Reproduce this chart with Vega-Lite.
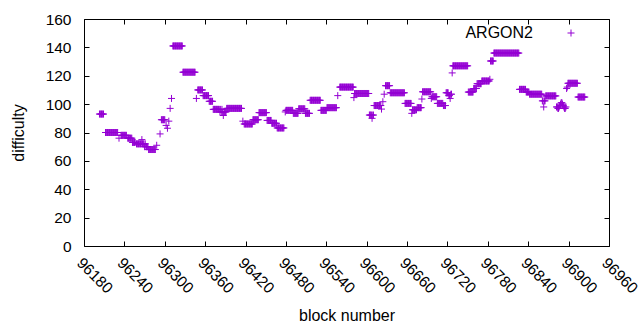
{
  "$schema": "https://vega.github.io/schema/vega-lite/v6.json",
  "width": 525,
  "height": 227,
  "autosize": "none",
  "padding": {"left": 84, "top": 19, "right": 31, "bottom": 84},
  "background": "white",
  "config": {
    "view": {"stroke": "black", "strokeWidth": 1},
    "font": "Liberation Sans",
    "axis": {"grid": false, "domain": false, "tickColor": "black", "tickWidth": 1, "tickSize": -5, "labelColor": "black", "labelFont": "Liberation Sans", "labelFontSize": 15.5, "titleFont": "Liberation Sans", "titleFontSize": 16, "titleFontWeight": "normal", "titleColor": "black"}
  },
  "resolve": {"axis": {"x": "independent", "y": "independent"}},
  "layer": [
    {
      "data": {"values": [
        {"b":96203,"d":93},{"b":96204,"d":93},{"b":96205,"d":93},{"b":96206,"d":93},{"b":96207,"d":93},{"b":96208,"d":93},{"b":96209,"d":93},
        {"b":96212,"d":80},{"b":96213,"d":80},{"b":96214,"d":80},{"b":96215,"d":80},{"b":96216,"d":80},{"b":96217,"d":80},{"b":96218,"d":80},{"b":96219,"d":80},{"b":96220,"d":80},{"b":96221,"d":80},{"b":96222,"d":80},{"b":96223,"d":80},{"b":96224,"d":80},{"b":96225,"d":80},{"b":96226,"d":80},{"b":96227,"d":80},{"b":96228,"d":80},{"b":96229,"d":80},{"b":96230,"d":80},
        {"b":96232,"d":76},
        {"b":96235,"d":78},{"b":96236,"d":78},{"b":96237,"d":78},{"b":96238,"d":78},{"b":96239,"d":78},{"b":96240,"d":78},{"b":96241,"d":78},{"b":96242,"d":78},{"b":96243,"d":78},
        {"b":96245,"d":76},{"b":96246,"d":76},{"b":96247,"d":76},{"b":96248,"d":76},{"b":96249,"d":76},{"b":96250,"d":76},{"b":96251,"d":76},
        {"b":96252,"d":73},{"b":96253,"d":73},{"b":96254,"d":73},{"b":96255,"d":73},{"b":96256,"d":73},
        {"b":96258,"d":72},{"b":96259,"d":72},{"b":96260,"d":72},{"b":96261,"d":72},{"b":96262,"d":72},{"b":96263,"d":72},{"b":96264,"d":72},{"b":96265,"d":72},{"b":96266,"d":75},{"b":96267,"d":72},{"b":96268,"d":72},{"b":96269,"d":72},{"b":96271,"d":72},
        {"b":96270,"d":70},{"b":96272,"d":70},{"b":96273,"d":70},{"b":96274,"d":70},{"b":96275,"d":70},
        {"b":96276,"d":68},{"b":96277,"d":68},{"b":96278,"d":68},{"b":96279,"d":68},{"b":96280,"d":68},{"b":96281,"d":68},{"b":96282,"d":68},{"b":96283,"d":68},{"b":96284,"d":68},{"b":96285,"d":68},{"b":96286,"d":68},
        {"b":96288,"d":71},{"b":96293,"d":79},
        {"b":96295,"d":89},{"b":96296,"d":89},{"b":96297,"d":89},{"b":96298,"d":89},{"b":96299,"d":89},{"b":96300,"d":89},
        {"b":96302,"d":85},{"b":96304,"d":83},{"b":96306,"d":88},{"b":96308,"d":97},{"b":96310,"d":104},
        {"b":96312,"d":141},{"b":96313,"d":141},{"b":96314,"d":141},{"b":96315,"d":141},{"b":96316,"d":141},{"b":96317,"d":141},{"b":96318,"d":141},{"b":96319,"d":141},{"b":96320,"d":141},{"b":96321,"d":141},{"b":96322,"d":141},{"b":96323,"d":141},{"b":96324,"d":141},{"b":96325,"d":141},{"b":96326,"d":141},
        {"b":96327,"d":122.5},{"b":96328,"d":122.5},{"b":96329,"d":122.5},{"b":96330,"d":122.5},{"b":96331,"d":122.5},{"b":96332,"d":122.5},{"b":96333,"d":122.5},{"b":96334,"d":122.5},{"b":96335,"d":122.5},{"b":96336,"d":122.5},{"b":96337,"d":122.5},{"b":96338,"d":122.5},{"b":96339,"d":122.5},{"b":96340,"d":122.5},{"b":96341,"d":122.5},{"b":96342,"d":122.5},{"b":96343,"d":122.5},{"b":96344,"d":122.5},{"b":96345,"d":122.5},
        {"b":96347,"d":104},
        {"b":96349,"d":110},{"b":96350,"d":110},{"b":96351,"d":110},{"b":96352,"d":110},{"b":96353,"d":110},{"b":96354,"d":110},{"b":96355,"d":110},{"b":96356,"d":110},
        {"b":96357,"d":106},{"b":96358,"d":106},{"b":96359,"d":106},{"b":96360,"d":106},{"b":96361,"d":106},{"b":96362,"d":106},{"b":96363,"d":106},{"b":96364,"d":106},{"b":96365,"d":106},
        {"b":96366,"d":102},{"b":96367,"d":102},{"b":96368,"d":102},{"b":96369,"d":102},{"b":96370,"d":102},{"b":96371,"d":102},
        {"b":96372,"d":96.3},{"b":96373,"d":96.3},{"b":96374,"d":96.3},{"b":96375,"d":96.3},{"b":96376,"d":96.3},{"b":96377,"d":96.3},{"b":96378,"d":96.3},{"b":96379,"d":96.3},{"b":96380,"d":96.3},{"b":96381,"d":96.3},{"b":96383,"d":96.3},{"b":96385,"d":96.3},
        {"b":96382,"d":94.5},{"b":96384,"d":94.5},{"b":96386,"d":94.5},{"b":96387,"d":92},{"b":96388,"d":94.5},{"b":96389,"d":94.5},{"b":96390,"d":94.5},{"b":96391,"d":94.5},
        {"b":96392,"d":97},{"b":96393,"d":97},{"b":96394,"d":97},{"b":96395,"d":97},{"b":96396,"d":97},{"b":96397,"d":97},{"b":96398,"d":97},{"b":96399,"d":97},{"b":96400,"d":97},{"b":96401,"d":97},{"b":96402,"d":97},{"b":96403,"d":97},{"b":96404,"d":97},{"b":96405,"d":97},{"b":96406,"d":97},{"b":96407,"d":97},{"b":96408,"d":97},{"b":96409,"d":97},{"b":96410,"d":97},{"b":96411,"d":97},{"b":96412,"d":97},{"b":96413,"d":97},{"b":96414,"d":97},
        {"b":96416,"d":88},
        {"b":96418,"d":86},{"b":96419,"d":86},{"b":96420,"d":86},{"b":96421,"d":86},{"b":96422,"d":86},{"b":96423,"d":86},{"b":96424,"d":86},{"b":96425,"d":86},{"b":96426,"d":86},{"b":96427,"d":86},{"b":96428,"d":86},{"b":96429,"d":86},{"b":96430,"d":86},
        {"b":96431,"d":89},{"b":96432,"d":89},{"b":96433,"d":89},{"b":96434,"d":89},{"b":96435,"d":89},{"b":96436,"d":89},{"b":96437,"d":89},{"b":96438,"d":89},{"b":96439,"d":89},
        {"b":96440,"d":94},{"b":96441,"d":94},{"b":96442,"d":94},{"b":96443,"d":94},{"b":96444,"d":94},{"b":96445,"d":94},{"b":96446,"d":94},{"b":96447,"d":94},{"b":96448,"d":94},{"b":96449,"d":94},{"b":96450,"d":94},{"b":96451,"d":94},
        {"b":96452,"d":88.5},{"b":96453,"d":88.5},{"b":96454,"d":88.5},{"b":96455,"d":88.5},{"b":96456,"d":88.5},{"b":96457,"d":88.5},{"b":96458,"d":88.5},
        {"b":96459,"d":86.5},{"b":96460,"d":86.5},{"b":96461,"d":86.5},{"b":96462,"d":86.5},{"b":96463,"d":86.5},{"b":96464,"d":86.5},{"b":96465,"d":86.5},{"b":96466,"d":86.5},
        {"b":96467,"d":83.2},{"b":96468,"d":83.2},{"b":96469,"d":83.2},{"b":96470,"d":83.2},{"b":96471,"d":83.2},{"b":96472,"d":83.2},{"b":96473,"d":83.2},{"b":96474,"d":83.2},{"b":96475,"d":83.2},{"b":96476,"d":83.2},{"b":96477,"d":83.2},
        {"b":96479,"d":94.5},
        {"b":96480,"d":95.6},{"b":96481,"d":95.6},{"b":96482,"d":95.6},{"b":96483,"d":95.6},{"b":96484,"d":95.6},{"b":96485,"d":95.6},{"b":96486,"d":95.6},{"b":96487,"d":95.6},{"b":96488,"d":95.6},{"b":96489,"d":95.6},{"b":96490,"d":95.6},
        {"b":96491,"d":93.5},{"b":96492,"d":93.5},{"b":96493,"d":93.5},{"b":96494,"d":93.5},{"b":96495,"d":93.5},{"b":96496,"d":93.5},{"b":96497,"d":93.5},{"b":96498,"d":93.5},
        {"b":96499,"d":96.7},{"b":96500,"d":96.7},{"b":96501,"d":96.7},{"b":96502,"d":96.7},{"b":96503,"d":96.7},{"b":96504,"d":96.7},{"b":96505,"d":96.7},{"b":96506,"d":96.7},{"b":96507,"d":96.7},{"b":96508,"d":96.7},
        {"b":96509,"d":93.5},{"b":96510,"d":93.5},{"b":96511,"d":93.5},{"b":96512,"d":93.5},{"b":96513,"d":93.5},{"b":96514,"d":93.5},{"b":96515,"d":93.5},
        {"b":96516,"d":102.7},{"b":96517,"d":102.7},{"b":96518,"d":102.7},{"b":96519,"d":102.7},{"b":96520,"d":102.7},{"b":96521,"d":102.7},{"b":96522,"d":102.7},{"b":96523,"d":102.7},{"b":96524,"d":102.7},{"b":96525,"d":102.7},{"b":96526,"d":102.7},{"b":96527,"d":102.7},{"b":96528,"d":102.7},{"b":96529,"d":102.7},{"b":96530,"d":102.7},{"b":96531,"d":102.7},
        {"b":96532,"d":95.6},{"b":96533,"d":95.6},{"b":96534,"d":95.6},{"b":96535,"d":95.6},{"b":96536,"d":95.6},{"b":96537,"d":95.6},{"b":96538,"d":95.6},{"b":96539,"d":95.6},{"b":96540,"d":95.6},
        {"b":96541,"d":97.5},{"b":96542,"d":97.5},{"b":96543,"d":97.5},{"b":96544,"d":97.5},{"b":96545,"d":97.5},{"b":96546,"d":97.5},{"b":96547,"d":97.5},{"b":96548,"d":97.5},{"b":96549,"d":97.5},{"b":96550,"d":97.5},{"b":96551,"d":97.5},{"b":96552,"d":97.5},{"b":96553,"d":97.5},{"b":96554,"d":97.5},{"b":96555,"d":97.5},
        {"b":96557,"d":106},
        {"b":96560,"d":112},{"b":96561,"d":112},{"b":96562,"d":112},{"b":96563,"d":112},{"b":96564,"d":112},{"b":96565,"d":112},{"b":96566,"d":112},{"b":96567,"d":112},{"b":96568,"d":112},{"b":96569,"d":112},{"b":96570,"d":112},{"b":96571,"d":112},{"b":96572,"d":112},{"b":96573,"d":112},{"b":96574,"d":112},{"b":96575,"d":112},{"b":96576,"d":112},{"b":96577,"d":112},{"b":96578,"d":112},{"b":96579,"d":112},{"b":96580,"d":112},
        {"b":96581,"d":104.6},
        {"b":96582,"d":107.5},{"b":96583,"d":107.5},{"b":96584,"d":107.5},{"b":96585,"d":107.5},{"b":96586,"d":107.5},{"b":96587,"d":107.5},{"b":96588,"d":107.5},{"b":96589,"d":107.5},{"b":96590,"d":107.5},{"b":96591,"d":107.5},{"b":96592,"d":107.5},{"b":96593,"d":107.5},{"b":96594,"d":107.5},{"b":96595,"d":107.5},{"b":96596,"d":107.5},{"b":96597,"d":107.5},{"b":96598,"d":107.5},{"b":96599,"d":107.5},{"b":96600,"d":107.5},{"b":96601,"d":107.5},{"b":96602,"d":107.5},{"b":96603,"d":107.5},
        {"b":96604,"d":92.3},{"b":96605,"d":92.3},{"b":96606,"d":92.3},{"b":96607,"d":92.3},{"b":96608,"d":90},{"b":96609,"d":92.3},{"b":96610,"d":92.3},
        {"b":96611,"d":99},{"b":96612,"d":99},{"b":96613,"d":99},{"b":96614,"d":99},{"b":96615,"d":99},{"b":96616,"d":99},{"b":96617,"d":99},{"b":96618,"d":99},{"b":96619,"d":99},{"b":96620,"d":99},{"b":96621,"d":99},
        {"b":96622,"d":96.5},{"b":96624,"d":101.7},{"b":96626,"d":107},
        {"b":96628,"d":113},{"b":96629,"d":113},{"b":96630,"d":113},{"b":96631,"d":113},{"b":96632,"d":113},{"b":96633,"d":113},{"b":96634,"d":113},
        {"b":96635,"d":108},{"b":96636,"d":108},{"b":96637,"d":108},{"b":96638,"d":108},{"b":96639,"d":108},{"b":96640,"d":108},{"b":96641,"d":108},{"b":96642,"d":108},{"b":96643,"d":108},{"b":96644,"d":108},{"b":96645,"d":108},{"b":96646,"d":108},{"b":96647,"d":108},{"b":96648,"d":108},{"b":96649,"d":108},{"b":96650,"d":108},{"b":96651,"d":108},{"b":96652,"d":108},{"b":96653,"d":108},{"b":96654,"d":108},{"b":96655,"d":108},{"b":96656,"d":108},
        {"b":96657,"d":100.5},{"b":96658,"d":100.5},{"b":96659,"d":100.5},{"b":96660,"d":100.5},{"b":96661,"d":100.5},{"b":96662,"d":100.5},{"b":96663,"d":100.5},{"b":96664,"d":100.5},{"b":96665,"d":100.5},{"b":96666,"d":100.5},
        {"b":96667,"d":93.5},
        {"b":96668,"d":96},{"b":96669,"d":96},{"b":96670,"d":96},{"b":96671,"d":96},{"b":96672,"d":96},{"b":96673,"d":96},{"b":96674,"d":96},
        {"b":96675,"d":97.5},{"b":96676,"d":97.5},{"b":96677,"d":97.5},{"b":96678,"d":97.5},{"b":96679,"d":97.5},{"b":96680,"d":97.5},{"b":96681,"d":97.5},
        {"b":96682,"d":103.6},
        {"b":96683,"d":108.7},{"b":96684,"d":108.7},{"b":96685,"d":108.7},{"b":96686,"d":108.7},{"b":96687,"d":108.7},{"b":96688,"d":108.7},{"b":96689,"d":108.7},{"b":96690,"d":108.7},{"b":96691,"d":108.7},{"b":96692,"d":108.7},{"b":96693,"d":108.7},{"b":96694,"d":108.7},{"b":96695,"d":108.7},
        {"b":96696,"d":104},
        {"b":96697,"d":105.2},{"b":96698,"d":105.2},{"b":96699,"d":105.2},{"b":96700,"d":105.2},{"b":96701,"d":105.2},{"b":96702,"d":105.2},{"b":96703,"d":105.2},{"b":96704,"d":105.2},
        {"b":96705,"d":100.5},{"b":96706,"d":100.5},{"b":96707,"d":100.5},{"b":96708,"d":100.5},{"b":96709,"d":100.5},{"b":96710,"d":100.5},{"b":96711,"d":100.5},{"b":96712,"d":100.5},{"b":96713,"d":100.5},
        {"b":96714,"d":99},{"b":96715,"d":99},{"b":96716,"d":99},{"b":96717,"d":99},
        {"b":96718,"d":108},{"b":96719,"d":108},{"b":96720,"d":108},{"b":96721,"d":108},{"b":96722,"d":106},{"b":96723,"d":106},{"b":96724,"d":104},{"b":96725,"d":107},{"b":96726,"d":107},
        {"b":96727,"d":122},
        {"b":96728,"d":127},{"b":96729,"d":127},{"b":96730,"d":127},{"b":96731,"d":127},{"b":96732,"d":127},{"b":96733,"d":127},{"b":96734,"d":127},{"b":96735,"d":127},{"b":96736,"d":127},{"b":96737,"d":127},{"b":96738,"d":127},{"b":96739,"d":127},{"b":96740,"d":127},{"b":96741,"d":127},{"b":96742,"d":127},{"b":96743,"d":127},{"b":96744,"d":127},{"b":96745,"d":127},{"b":96746,"d":127},{"b":96747,"d":127},{"b":96748,"d":127},{"b":96749,"d":127},{"b":96750,"d":127},
        {"b":96751,"d":108.5},{"b":96752,"d":108.5},{"b":96753,"d":108.5},{"b":96754,"d":108.5},{"b":96755,"d":108.5},{"b":96756,"d":108.5},{"b":96757,"d":108.5},{"b":96758,"d":108.5},
        {"b":96759,"d":111},{"b":96760,"d":111},{"b":96761,"d":111},{"b":96762,"d":111},{"b":96763,"d":111},
        {"b":96764,"d":114.4},{"b":96765,"d":114.4},{"b":96766,"d":114.4},{"b":96767,"d":114.4},{"b":96768,"d":114.4},{"b":96769,"d":114.4},{"b":96770,"d":114.4},
        {"b":96771,"d":116.3},{"b":96772,"d":116.3},{"b":96773,"d":116.3},{"b":96774,"d":116.3},{"b":96775,"d":116.3},{"b":96776,"d":116.3},{"b":96777,"d":116.3},{"b":96778,"d":116.3},{"b":96779,"d":116.3},{"b":96780,"d":116.3},{"b":96781,"d":116.3},{"b":96782,"d":116.3},
        {"b":96783,"d":117.5},
        {"b":96784,"d":130.4},{"b":96785,"d":130.4},{"b":96786,"d":130.4},{"b":96787,"d":130.4},{"b":96788,"d":130.4},
        {"b":96789,"d":136},{"b":96790,"d":136},{"b":96791,"d":136},{"b":96792,"d":136},{"b":96793,"d":136},{"b":96794,"d":136},{"b":96795,"d":136},{"b":96796,"d":136},{"b":96797,"d":136},{"b":96798,"d":136},{"b":96799,"d":136},{"b":96800,"d":136},{"b":96801,"d":136},{"b":96802,"d":136},{"b":96803,"d":136},{"b":96804,"d":136},{"b":96805,"d":136},{"b":96806,"d":136},{"b":96807,"d":136},{"b":96808,"d":136},{"b":96809,"d":136},{"b":96810,"d":136},{"b":96811,"d":136},{"b":96812,"d":136},{"b":96813,"d":136},{"b":96814,"d":136},{"b":96815,"d":136},{"b":96816,"d":136},{"b":96817,"d":136},{"b":96818,"d":136},{"b":96819,"d":136},{"b":96820,"d":136},{"b":96821,"d":136},{"b":96822,"d":136},{"b":96823,"d":136},{"b":96824,"d":136},{"b":96825,"d":136},{"b":96826,"d":136},
        {"b":96827,"d":110.4},{"b":96828,"d":110.4},{"b":96829,"d":110.4},{"b":96830,"d":110.4},{"b":96831,"d":110.4},{"b":96832,"d":110.4},{"b":96833,"d":110.4},{"b":96834,"d":110.4},{"b":96835,"d":110.4},{"b":96836,"d":110.4},
        {"b":96837,"d":108.5},{"b":96838,"d":108.5},{"b":96839,"d":108.5},{"b":96840,"d":108.5},{"b":96841,"d":108.5},
        {"b":96842,"d":107},{"b":96843,"d":107},{"b":96844,"d":107},{"b":96845,"d":107},{"b":96846,"d":107},{"b":96847,"d":107},{"b":96848,"d":107},{"b":96849,"d":107},{"b":96850,"d":107},{"b":96851,"d":107},{"b":96852,"d":107},{"b":96853,"d":107},{"b":96854,"d":107},{"b":96855,"d":107},{"b":96856,"d":107},{"b":96857,"d":107},{"b":96858,"d":107},{"b":96859,"d":107},{"b":96860,"d":107},
        {"b":96861,"d":102.3},{"b":96862,"d":102.3},{"b":96863,"d":98},{"b":96864,"d":102.3},{"b":96865,"d":102.3},
        {"b":96866,"d":105.8},{"b":96867,"d":105.8},{"b":96868,"d":105.8},{"b":96869,"d":105.8},{"b":96870,"d":105.8},{"b":96871,"d":105.8},{"b":96872,"d":105.8},{"b":96873,"d":105.8},{"b":96874,"d":105.8},{"b":96875,"d":105.8},{"b":96876,"d":105.8},{"b":96877,"d":105.8},{"b":96878,"d":105.8},{"b":96879,"d":105.8},{"b":96880,"d":105.8},{"b":96881,"d":105.8},
        {"b":96882,"d":98},{"b":96883,"d":98},{"b":96884,"d":97},{"b":96885,"d":97},{"b":96886,"d":98},{"b":96887,"d":99},{"b":96888,"d":100},{"b":96889,"d":101},{"b":96890,"d":101},{"b":96891,"d":100},{"b":96892,"d":99},{"b":96893,"d":98},{"b":96894,"d":97},{"b":96895,"d":97},{"b":96896,"d":98},
        {"b":96897,"d":111},{"b":96898,"d":112},
        {"b":96899,"d":114.7},{"b":96900,"d":114.7},{"b":96901,"d":114.7},{"b":96902,"d":114.7},{"b":96903,"d":114.7},{"b":96904,"d":114.7},{"b":96905,"d":114.7},{"b":96906,"d":114.7},{"b":96907,"d":114.7},{"b":96908,"d":114.7},{"b":96909,"d":114.7},{"b":96910,"d":114.7},{"b":96911,"d":114.7},{"b":96912,"d":114.7},{"b":96913,"d":114.7},
        {"b":96914,"d":105},{"b":96915,"d":105},{"b":96916,"d":105},{"b":96917,"d":105},{"b":96918,"d":105},{"b":96919,"d":105},{"b":96920,"d":105},{"b":96921,"d":105},{"b":96922,"d":105},{"b":96923,"d":105},{"b":96924,"d":105}
      ]},
      "mark": {"type": "point", "shape": "M-1,0H1M0,-1V1", "size": 49, "filled": false, "strokeWidth": 1, "opacity": 1},
      "encoding": {
        "x": {"field": "b", "type": "quantitative", "scale": {"domain": [96180, 96960], "nice": false, "zero": false},
          "axis": {"orient": "bottom", "title": "block number", "values": [96180,96240,96300,96360,96420,96480,96540,96600,96660,96720,96780,96840,96900,96960], "format": "d", "labelAngle": 45, "labelAlign": "left", "labelBaseline": "top", "labelPadding": 14, "labelFlush": false, "labelOverlap": false, "titlePadding": 11}},
        "y": {"field": "d", "type": "quantitative", "scale": {"domain": [0, 160], "nice": false},
          "axis": {"orient": "left", "title": "difficulty", "values": [0,20,40,60,80,100,120,140,160], "labelPadding": 18, "titlePadding": 19}},
        "color": {"datum": "ARGON2", "type": "nominal", "scale": {"range": ["#9400d3"]},
          "legend": {"title": null, "orient": "none", "legendX": 479, "legendY": 6, "padding": 0, "symbolType": "M-1,0H1M0,-1V1", "symbolSize": 49, "symbolStrokeWidth": 1, "symbolFillColor": "transparent", "symbolStrokeColor": "#9400d3", "labelFont": "Liberation Sans", "labelFontSize": 16, "labelColor": "black", "labelAlign": "right", "labelOffset": -46}}
      }
    },
    {
      "data": {"values": [{"b": 96180, "d": 0}]},
      "mark": {"type": "point", "opacity": 0},
      "encoding": {
        "x": {"field": "b", "type": "quantitative", "scale": {"domain": [96180, 96960], "nice": false, "zero": false},
          "axis": {"orient": "top", "title": null, "labels": false, "values": [96180,96240,96300,96360,96420,96480,96540,96600,96660,96720,96780,96840,96900,96960]}},
        "y": {"field": "d", "type": "quantitative", "scale": {"domain": [0, 160], "nice": false},
          "axis": {"orient": "right", "title": null, "labels": false, "values": [0,20,40,60,80,100,120,140,160]}}
      }
    }
  ]
}
